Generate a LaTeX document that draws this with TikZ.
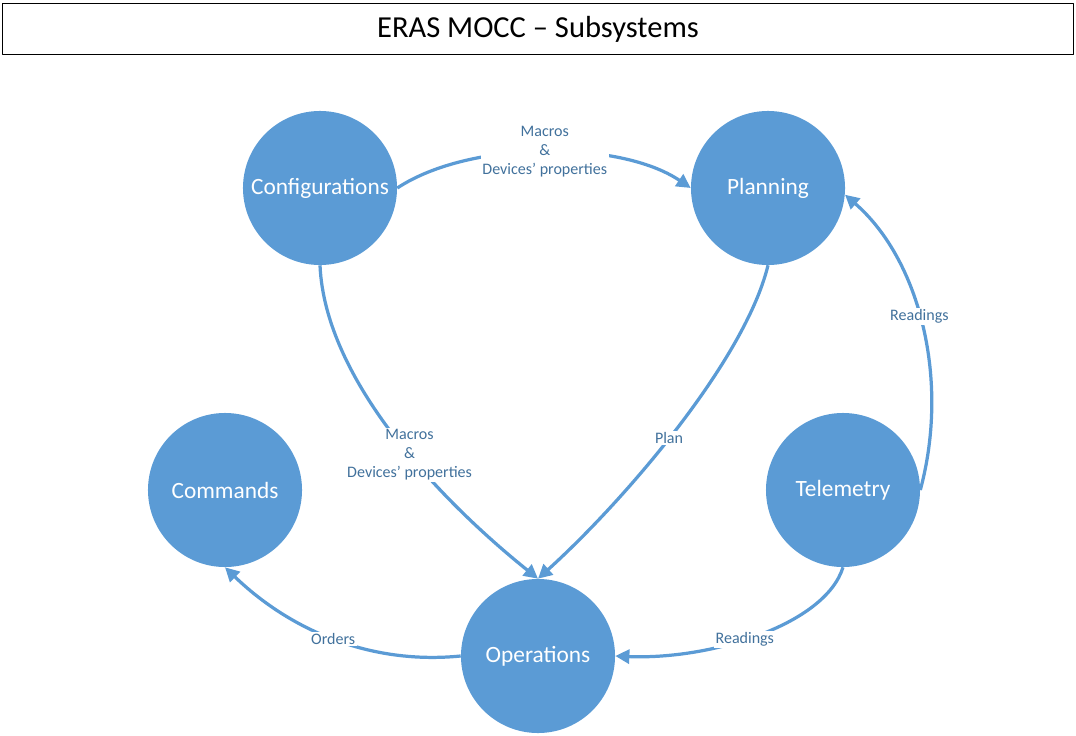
\documentclass[tikz,border=0pt]{standalone}
\usepackage{fontspec}
\setmainfont{Carlito}
\usetikzlibrary{arrows.meta}
\definecolor{subblue}{HTML}{5B9BD5}
\definecolor{labblue}{HTML}{41719C}
\begin{document}
\begin{tikzpicture}[x=0.025cm, y=-0.025cm, line join=round, >={Triangle[length=10pt,width=10pt]},
	sub/.style={circle, fill=subblue, minimum size=3.85cm, inner sep=0pt, text=white, font=\fontsize{16.6}{19}\selectfont},
	flow/.style={draw=subblue, line width=2.3pt, ->},
	lab/.style={fill=white, text=labblue, font=\fontsize{11.4}{13.6}\selectfont, align=center, inner sep=1pt}]
	\useasboundingbox (0,0) rectangle (1076,735);
	\coordinate (T) at (538,29);
	\coordinate (C) at (320,188);
	\coordinate (P) at (768,188);
	\coordinate (K) at (225,490);
	\coordinate (R) at (843,490);
	\coordinate (O) at (538,656);
	\node[draw, line width=0.7pt, minimum width=26.775cm, minimum height=1.275cm, font=\fontsize{21.7}{26}\selectfont] (title) at (T) {ERAS MOCC -- Subsystems};
	\node[sub] (conf) at (C) {Configurations};
	\node[sub] (plan) at (P) {Planning};
	\node[sub] (cmd) at (K) {Commands};
	\node[sub] (tel) at (R) {Telemetry};
	\node[sub] (ops) at (O) {Operations};
	\draw[flow] (conf.east) .. controls (470,140) and (620,140) .. (plan.west) node[lab, midway] {Macros\\\&\\Devices’ properties};
	\draw[flow] (conf.south) .. controls (325,380) and (440,500) .. (ops.north) node[lab, pos=0.56] {Macros\\\&\\Devices’ properties};
	\draw[flow] (plan.south) .. controls (745,360) and (625,500) .. (ops.north) node[lab, pos=0.53] {Plan};
	\draw[flow] (tel.east) .. controls (950,380) and (920,260) .. (plan.-5) node[lab, pos=0.53] {Readings};
	\draw[flow] (tel.south) .. controls (825,625) and (710,660) .. (ops.east) node[lab, pos=0.55] {Readings};
	\draw[flow] (ops.west) .. controls (370,665) and (290,630) .. (cmd.south) node[lab, pos=0.5] {Orders};
\end{tikzpicture}
\end{document}
